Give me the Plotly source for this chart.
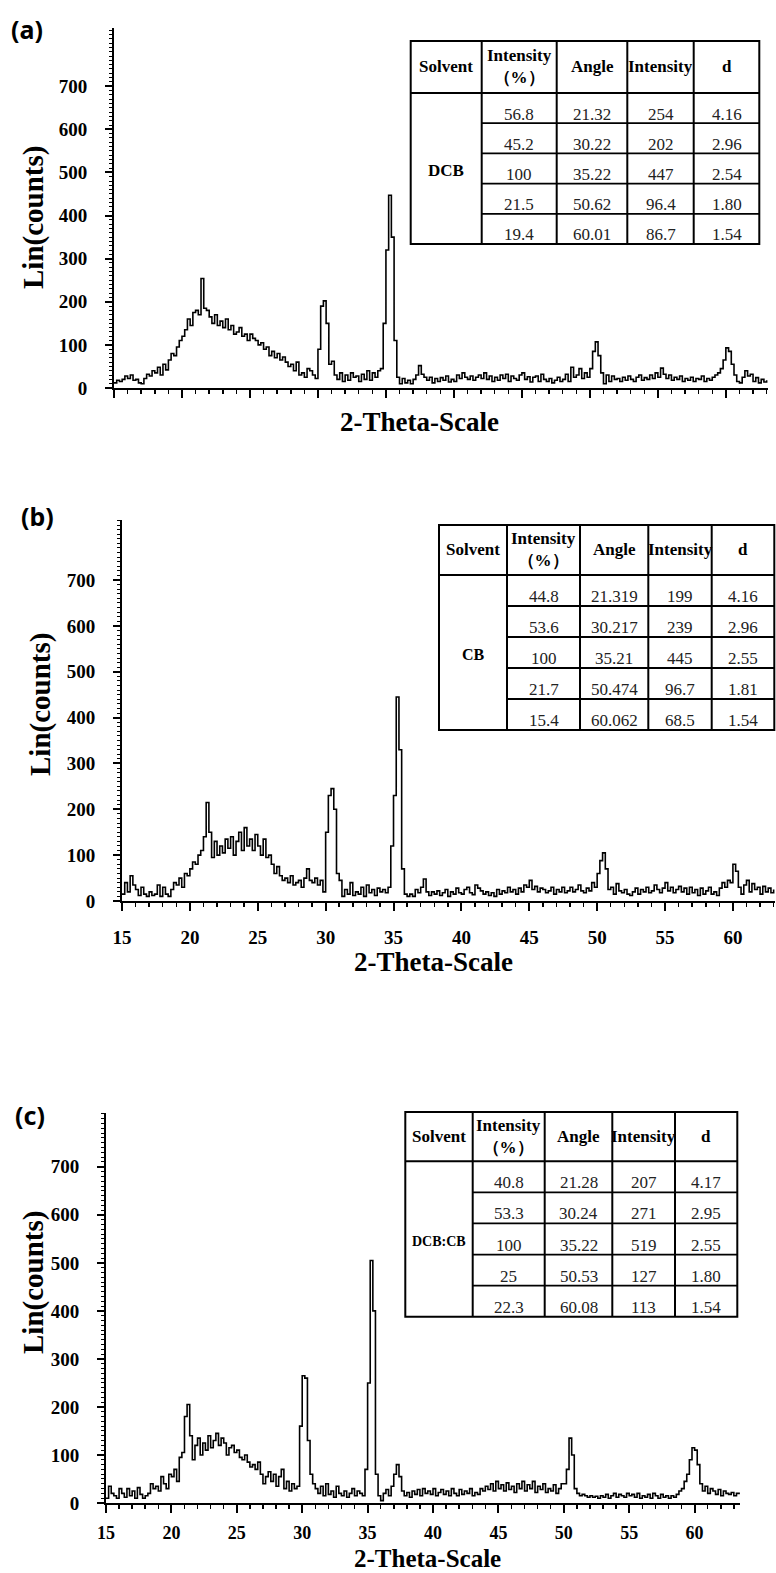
import plotly.graph_objects as go

# ---------------- data ----------------
SCAN_START = 15.0
SCAN_STEP = 0.2

counts_dcb = [
    12, 18, 15, 20, 28,   22, 30, 18, 20, 12,   10, 22, 32, 28, 40,   35, 48, 30, 55, 42,
    65, 80, 75, 95, 110,  120, 135, 160, 145, 175, 180, 170, 254, 185, 180, 165, 150, 170, 145, 155,
    140, 160, 135, 145, 125, 130, 140, 120, 125, 110, 125, 115, 110, 100, 105, 90, 95, 75, 85, 70,
    80, 65, 72, 60, 50,   55, 40, 60, 30, 35,   25, 45, 40, 30, 22,   90, 190, 202, 150, 55,
    62, 30, 20, 35, 15,   30, 18, 35, 25, 28,   15, 32, 20, 40, 18,   35, 25, 40, 45, 150,
    320, 447, 350, 110, 25, 10, 22, 12, 18, 10, 20, 30, 52, 32, 25,   18, 25, 12, 22, 15,
    24, 18, 28, 14, 20,   15, 30, 22, 35, 25,   20, 28, 18, 25, 30,   22, 35, 20, 28, 15,
    25, 18, 30, 22, 32,   15, 28, 22, 18, 30,   35, 20, 26, 14, 25,   28, 15, 32, 20, 15,
    22, 12, 18, 25, 15,   20, 32, 15, 48, 25,   30, 45, 22, 35, 25,   45, 85, 107, 75, 35,
    10, 30, 15, 28, 20,   22, 15, 25, 18, 28,   20, 15, 25, 30, 18,   24, 20, 30, 22, 35,
    25, 46, 32, 22, 30,   18, 25, 20, 28, 15,   22, 18, 25, 15, 22,   20, 28, 15, 22, 18,
    25, 30, 35, 45, 65,   93, 85, 55, 30, 15,   12, 25, 40, 28, 32,   15, 24, 12, 20, 14,
    18,
]

counts_cb = [
    15, 40, 20, 55, 35,   25, 12, 30, 15, 10,   20, 12, 15, 35, 10,   30, 15, 10, 25, 40,
    35, 50, 30, 60, 55,   70, 85, 80, 100, 110, 140, 215, 150, 95, 130, 100, 120, 105, 135, 115,
    140, 100, 130, 150, 110, 160, 120, 135, 110, 145, 120, 100, 135, 95, 100, 80, 60, 75, 55, 45,
    50, 40, 55, 35, 40,   45, 30, 50, 70, 45,   40, 50, 35, 45, 20,   150, 230, 245, 200, 60,
    45, 10, 25, 15, 40,   12, 20, 15, 30, 10,   35, 18, 25, 12, 28,   20, 25, 18, 30, 120,
    230, 445, 330, 70, 15, 10, 15, 10, 25, 18,  30, 48, 20, 12, 20,   15, 22, 12, 18, 25,
    10, 20, 15, 28, 18,   15, 25, 30, 18, 14,   35, 28, 22, 15, 20,   12, 18, 10, 25, 15,
    22, 18, 30, 20, 25,   15, 28, 20, 35, 30,   45, 25, 32, 20, 28,   25, 18, 22, 30, 15,
    25, 20, 30, 18, 22,   30, 20, 25, 35, 22,   18, 28, 22, 40, 30,   60, 88, 105, 70, 25,
    30, 15, 38, 22, 18,   25, 15, 12, 20, 28,   15, 25, 20, 30, 18,   22, 35, 25, 18, 28,
    40, 22, 30, 18, 25,   32, 20, 28, 15, 30,   18, 25, 12, 28, 15,   22, 30, 15, 20, 12,
    28, 40, 30, 45, 40,   80, 65, 30, 15, 35,   45, 20, 38, 25, 30,   15, 32, 20, 28, 18,
    25,
]

counts_mix = [
    10, 35, 20, 15, 10,   30, 20, 12, 30, 15,   25, 10, 32, 18, 10,   15, 20, 40, 30, 35,
    25, 55, 40, 30, 60,   55, 70, 45, 95, 105,  180, 205, 140, 90, 120, 135, 100, 125, 110, 140,
    115, 130, 145, 120, 135, 125, 100, 115, 120, 105, 110, 95, 90, 100, 85, 75, 80, 70, 85, 60,
    40, 55, 65, 45, 60,   35, 55, 70, 30, 45,   25, 40, 30, 35, 160,  265, 260, 130, 60, 40,
    30, 20, 35, 15, 40,   18, 25, 12, 35, 20,   15, 25, 12, 20, 30,   15, 25, 20, 15, 70,
    250, 505, 400, 60, 15, 5, 20, 28, 15, 35,   60, 80, 55, 25, 15,   22, 12, 25, 18, 28,
    15, 30, 20, 25, 18,   30, 15, 22, 28, 18,   25, 15, 30, 20, 15,   28, 18, 25, 20, 30,
    15, 22, 18, 30, 25,   35, 28, 40, 25, 45,   30, 38, 25, 42, 28,   35, 22, 40, 30, 45,
    25, 38, 30, 45, 22,   35, 28, 40, 22, 30,   25, 38, 20, 30, 40,   40, 70, 135, 100, 30,
    20, 15, 18, 15, 12,   15, 12, 14, 10, 15,   12, 18, 10, 15, 20,   12, 18, 15, 12, 20,
    15, 18, 12, 20, 10,   15, 12, 18, 10, 20,   15, 10, 18, 12, 15,   10, 15, 12, 18, 25,
    30, 45, 60, 90, 115,  110, 80, 40, 25, 35,  20, 30, 25, 18, 28,   15, 25, 20, 18, 22,
    15, 20, 18,
]

y_tick_values = [0, 100, 200, 300, 400, 500, 600, 700]
x_tick_values = [15, 20, 25, 30, 35, 40, 45, 50, 55, 60]

panel_labels = ["(a)", "(b)", "(c)"]
solvents = ["DCB", "CB", "DCB:CB"]
table_header = ["Solvent", "Intensity<br>（%）", "Angle", "Intensity", "d"]
intensity_pct = [
    ["56.8", "45.2", "100", "21.5", "19.4"],
    ["44.8", "53.6", "100", "21.7", "15.4"],
    ["40.8", "53.3", "100", "25", "22.3"],
]
peak_angle = [
    ["21.32", "30.22", "35.22", "50.62", "60.01"],
    ["21.319", "30.217", "35.21", "50.474", "60.062"],
    ["21.28", "30.24", "35.22", "50.53", "60.08"],
]
peak_intensity = [
    ["254", "202", "447", "96.4", "86.7"],
    ["199", "239", "445", "96.7", "68.5"],
    ["207", "271", "519", "127", "113"],
]
d_spacing = [
    ["4.16", "2.96", "2.54", "1.80", "1.54"],
    ["4.16", "2.96", "2.55", "1.81", "1.54"],
    ["4.17", "2.95", "2.55", "1.80", "1.54"],
]
series = [counts_dcb, counts_cb, counts_mix]

# ---------------- layout geometry (pixels) ----------------
W, H = 776, 1573
SERIF = "Liberation Serif"


def px(x):
    return x / W


def py(y):
    return 1 - y / H


panels = [
    dict(l=114, r=768, t=28, b=388, xmax=63.1, ymax=835, xlab=False, xstand=10, xfont=19,
         title_x=(419, 422), title_size=27, ylab=(33, 218), tag=(27, 29)),
    dict(l=122, r=775, t=520, b=901, xmax=63.1, ymax=831, xlab=True, xstand=10, xfont=19,
         title_x=(433, 962), title_size=27, ylab=(40, 705), tag=(37, 516)),
    dict(l=106, r=740, t=1113, b=1503, xmax=63.47, ymax=812, xlab=True, xstand=4, xfont=18,
         title_x=(427, 1558), title_size=25, ylab=(33, 1283), tag=(30, 1115)),
]

tables = [
    dict(cols=[410.7, 481.7, 556.7, 627.3, 693.7, 759.3], top=41, hdr=93, bot=244, sfont=17),
    dict(cols=[439, 507, 580, 648.3, 711.7, 774.3], top=525, hdr=575, bot=730, sfont=16),
    dict(cols=[405.3, 472.7, 544.7, 612.3, 675, 737.3], top=1112, hdr=1161.3, bot=1316.7, sfont=14),
]

fig = go.Figure()
layout = dict(
    template="none",
    width=W, height=H, margin=dict(l=0, r=0, t=0, b=0, autoexpand=False),
    paper_bgcolor="white", plot_bgcolor="white", showlegend=False,
    font=dict(family=SERIF, color="black"),
)
annotations = []
shapes = []

for i, (p, ys) in enumerate(zip(panels, series)):
    n = "" if i == 0 else str(i + 1)
    xs = [round(SCAN_START + SCAN_STEP * k, 1) for k in range(len(ys))]
    fig.add_trace(go.Scatter(
        x=xs, y=ys, mode="lines", line=dict(color="black", width=1.6, shape="hv"),
        xaxis="x" + n, yaxis="y" + n, hoverinfo="skip",
    ))
    layout["xaxis" + n] = dict(
        domain=[px(p["l"]), px(p["r"])], range=[15, p["xmax"]], anchor="y" + n,
        automargin=False,
        showline=True, linecolor="black", linewidth=2, mirror=False,
        ticks="outside", ticklen=8, tickwidth=2, tickcolor="black",
        tickmode="array", tickvals=x_tick_values,
        ticktext=[str(v) for v in x_tick_values],
        showticklabels=p["xlab"], ticklabelstandoff=p["xstand"],
        tickfont=dict(family=SERIF, size=p["xfont"], weight="bold", color="black"),
        minor=dict(ticks="outside", tickmode="linear", tick0=15, dtick=1,
                   ticklen=4, tickwidth=1.5, tickcolor="black"),
        showgrid=False, zeroline=False, fixedrange=True,
    )
    layout["yaxis" + n] = dict(
        domain=[py(p["b"]), py(p["t"])], range=[0, p["ymax"]], anchor="x" + n,
        automargin=False,
        showline=True, linecolor="black", linewidth=2,
        ticks="outside", ticklen=7, tickwidth=2, tickcolor="black",
        tickmode="array", tickvals=y_tick_values,
        ticktext=[str(v) for v in y_tick_values], ticklabelstandoff=14,
        tickfont=dict(family=SERIF, size=19, weight="bold", color="black"),
        minor=dict(ticks="outside", tickmode="linear", tick0=0, dtick=10,
                   ticklen=3, tickwidth=1, tickcolor="black"),
        showgrid=False, zeroline=False, fixedrange=True,
    )
    annotations.append(dict(
        text="2-Theta-Scale", x=px(p["title_x"][0]), y=py(p["title_x"][1]),
        xref="paper", yref="paper", showarrow=False, xanchor="center", yanchor="middle",
        font=dict(family=SERIF, size=p["title_size"], weight="bold", color="black"),
    ))
    annotations.append(dict(
        text="Lin(counts)", x=px(p["ylab"][0]), y=py(p["ylab"][1]), textangle=-90,
        xref="paper", yref="paper", showarrow=False, xanchor="center", yanchor="middle",
        font=dict(family=SERIF, size=29, weight="bold", color="black"),
    ))
    annotations.append(dict(
        text=panel_labels[i], x=px(p["tag"][0]), y=py(p["tag"][1]),
        xref="paper", yref="paper", showarrow=False, xanchor="center", yanchor="middle",
        font=dict(family="Noto Sans", size=25, weight="bold", color="black"),
    ))

    # ---- table ----
    t = tables[i]
    cols = t["cols"]
    left, right = cols[0], cols[-1]
    nrows = len(intensity_pct[i])
    rh = (t["bot"] - t["hdr"]) / nrows

    def line(x0, y0, x1, y1, w=1.5):
        shapes.append(dict(type="line", xref="paper", yref="paper",
                           x0=px(x0), y0=py(y0), x1=px(x1), y1=py(y1),
                           line=dict(color="black", width=w)))

    shapes.append(dict(type="rect", xref="paper", yref="paper",
                       x0=px(left), x1=px(right), y0=py(t["bot"]), y1=py(t["top"]),
                       line=dict(color="black", width=2), fillcolor="white", layer="above"))
    line(left, t["hdr"], right, t["hdr"], 2)
    for c in cols[1:-1]:
        line(c, t["top"], c, t["bot"], 2)
    for r in range(1, nrows):
        yy = t["hdr"] + r * rh
        line(cols[1], yy, right, yy, 1.8)

    for c, h in enumerate(table_header):
        annotations.append(dict(
            text=h, x=px((cols[c] + cols[c + 1]) / 2), y=py((t["top"] + t["hdr"]) / 2),
            xref="paper", yref="paper", showarrow=False, xanchor="center", yanchor="middle",
            font=dict(family=SERIF, size=17, weight="bold", color="black"),
        ))
    annotations.append(dict(
        text=solvents[i], x=px((cols[0] + cols[1]) / 2), y=py((t["hdr"] + t["bot"]) / 2 + 2),
        xref="paper", yref="paper", showarrow=False, xanchor="center", yanchor="middle",
        font=dict(family=SERIF, size=t["sfont"], weight="bold", color="black"),
    ))
    columns = [intensity_pct[i], peak_angle[i], peak_intensity[i], d_spacing[i]]
    for c, vals in enumerate(columns):
        for r, v in enumerate(vals):
            annotations.append(dict(
                text=v, x=px((cols[c + 1] + cols[c + 2]) / 2),
                y=py(t["hdr"] + (r + 0.5) * rh + 6),
                xref="paper", yref="paper", showarrow=False, xanchor="center", yanchor="middle",
                font=dict(family=SERIF, size=17, color="#222"),
            ))

layout["annotations"] = annotations
layout["shapes"] = shapes
fig.update_layout(**layout)
fig.write_html(
    "out.html",
    config={"displayModeBar": False, "staticPlot": True},
    post_script="document.body.style.margin='0';document.body.style.overflow='hidden';",
)
